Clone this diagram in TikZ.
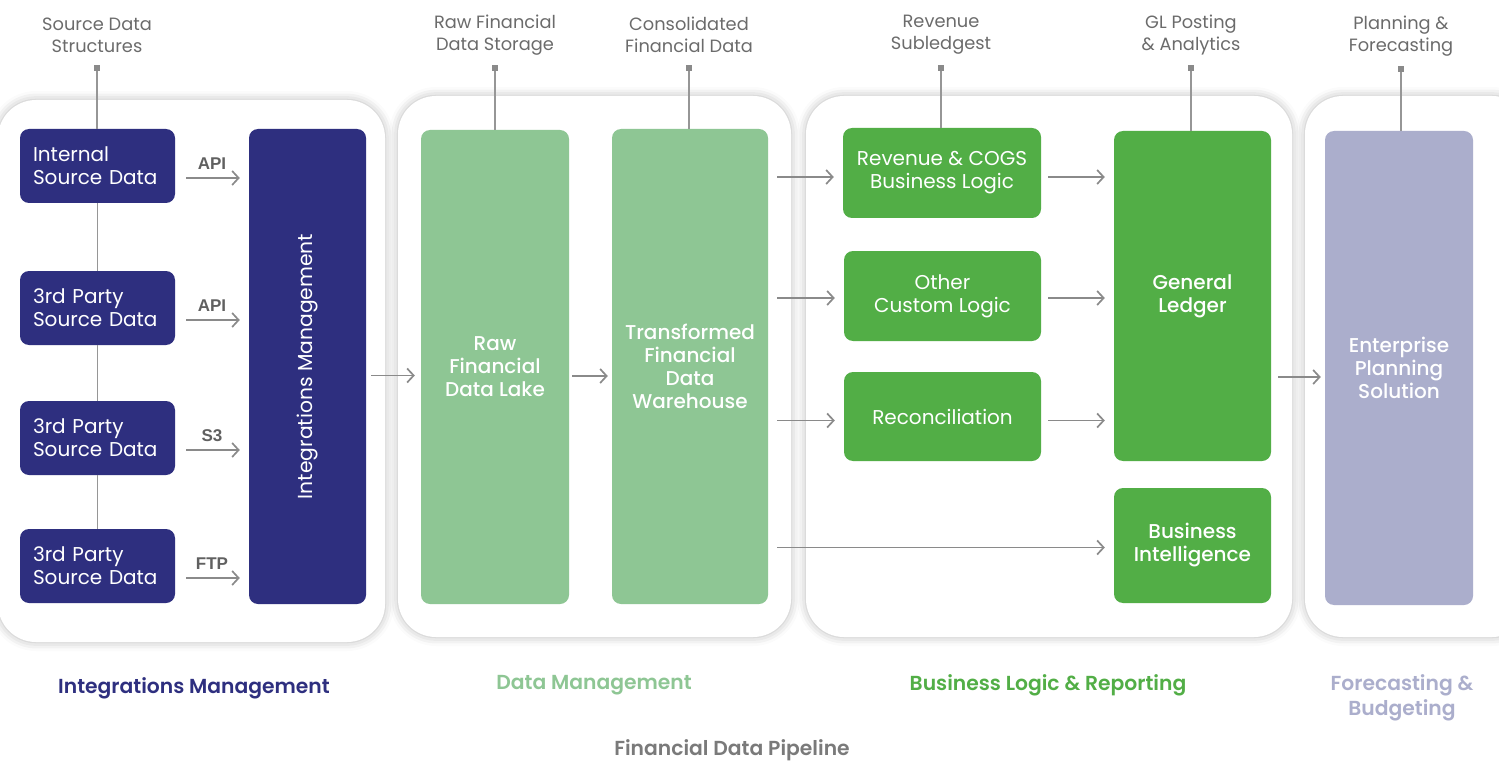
\documentclass[tikz,border=0pt]{standalone}
\usepackage{fontspec}
\setmainfont{Poppins}
\newfontfamily\popmed{Poppins Medium}
\newfontfamily\popsemi{Poppins SemiBold}
\newfontfamily\arialb{Liberation Sans}
\usetikzlibrary{arrows.meta,shadows.blur,calc}

\definecolor{navy}{RGB}{46,47,127}
\definecolor{leaf}{RGB}{82,174,70}
\definecolor{mint}{RGB}{142,198,148}
\definecolor{lilac}{RGB}{171,174,204}
\definecolor{labelgray}{RGB}{107,107,107}
\definecolor{arrowgray}{RGB}{138,138,138}
\definecolor{stemgray}{RGB}{150,150,150}

\tikzset{
  panel/.style={fill=white, rounded corners=38pt,
    blur shadow={shadow xshift=0pt, shadow yshift=0pt, shadow blur radius=9pt, shadow opacity=28}},
  block/.style={rectangle, rounded corners=9pt, inner sep=0pt, align=center, text=white,
    font=\fontsize{20}{23}\selectfont},
  medblock/.style={block, font=\popmed\fontsize{20}{23}\selectfont},
  srcbox/.style={block, fill=navy, minimum width=155pt, minimum height=74pt,
    text width=129pt, align=left},
  arr/.style={draw=arrowgray, line width=1.8pt, -{Straight Barb[length=6.5pt,width=14pt,line width=1.7pt]}},
  stem/.style={draw=stemgray, line width=1.3pt},
  marker/.style={rectangle, fill=arrowgray, minimum size=6pt, inner sep=0pt},
  toplabel/.style={align=center, text=labelgray, font=\fontsize{17.8}{22}\selectfont},
  protocol/.style={text=labelgray!90!black, font=\arialb\bfseries\fontsize{17}{20}\selectfont},
  steplabel/.style={align=center, font=\popsemi\fontsize{20.3}{25}\selectfont}
}

\begin{document}
\begin{tikzpicture}[x=1pt, y=-1pt]
\useasboundingbox (0,0) rectangle (1499,762);

% white stage panels
\path[panel] (-2,100) rectangle (385,642);
\path[panel] (398,96) rectangle (791,637);
\path[panel] (806,96) rectangle (1292,637);
\path[panel] (1305,96) rectangle (1530,637);

% source systems
\node[srcbox] (s1) at (97.5,166) {Internal\\Source Data};
\node[srcbox] (s2) at (97.5,308) {3rd Party\\Source Data};
\node[srcbox] (s3) at (97.5,438) {3rd Party\\Source Data};
\node[srcbox] (s4) at (97.5,566) {3rd Party\\Source Data};

% integration hub
\node[block, fill=navy, minimum width=117pt, minimum height=475pt] (im) at (307.5,366.5) {};
\node[text=white, rotate=90, font=\fontsize{20.3}{24}\selectfont] at (im.center) {Integrations Management};

% data management
\node[medblock, fill=mint, minimum width=148pt, minimum height=474pt] (raw) at (495,367) {Raw\\Financial\\Data Lake};
\node[medblock, fill=mint, minimum width=156pt, minimum height=475pt] (tw) at (690,366.5) {Transformed\\Financial\\Data\\Warehouse};

% business logic
\node[block, fill=leaf, minimum width=198pt, minimum height=90pt] (rc) at (942,173) {Revenue \& COGS\\Business Logic};
\node[block, fill=leaf, minimum width=197pt, minimum height=90pt] (oc) at (942.5,296) {Other\\Custom Logic};
\node[block, fill=leaf, minimum width=197pt, minimum height=89pt] (rec) at (942.5,416.5) {Reconciliation};
\node[medblock, fill=leaf, minimum width=157pt, minimum height=330pt] (gl) at (1192.5,296) {General\\Ledger};
\node[medblock, fill=leaf, minimum width=157pt, minimum height=115pt] (bi) at (1192.5,545.5) {Business\\Intelligence};

% planning
\node[medblock, fill=lilac, minimum width=148pt, minimum height=474pt] (ep) at (1399,368) {Enterprise\\Planning\\Solution};

% header captions with their markers
\node[toplabel] (hs) at (97,35) {Source Data\\Structures};
\node[toplabel] (hr) at (495,35) {Raw Financial\\Data Storage};
\node[toplabel] (hc) at (689,35) {Consolidated\\Financial Data};
\node[toplabel] (hv) at (941,35) {Revenue\\Subledgest};
\node[toplabel] (hg) at (1191,35) {GL Posting\\\& Analytics};
\node[toplabel] (hp) at (1401,36) {Planning \&\\Forecasting};

\node[marker] (ms) at (97,68) {};
\node[marker] (mr) at (495,68) {};
\node[marker] (mc) at (689,68) {};
\node[marker] (mv) at (941,68) {};
\node[marker] (mg) at (1191,68) {};
\node[marker] (mp) at (1401,69) {};

\draw[stem] (ms) -- (ms |- s1.north);
\draw[stem] (s1.south) -- (s2.north);
\draw[stem] (s2.south) -- (s3.north);
\draw[stem] (s3.south) -- (s4.north);
\draw[stem] (mr) -- (mr |- raw.north);
\draw[stem] (mc) -- (mc |- tw.north);
\draw[stem] (mv) -- (mv |- rc.north);
\draw[stem] (mg) -- (mg |- gl.north);
\draw[stem] (mp) -- (mp |- ep.north);

% transfer protocols
\foreach \s/\p in {s1/API, s2/API, s3/S3, s4/FTP} {
  \draw[arr, shorten <=11pt, shorten >=9pt] ([yshift=-12pt]\s.east) -- ([yshift=-12pt]\s.east -| im.west)
    node[protocol, midway, above=4pt] {\p};
}

% flow between stages
\draw[arr, shorten <=5pt, shorten >=6pt] ([yshift=-9pt]im.east) -- ([yshift=-9pt]im.east -| raw.west);
\draw[arr, shorten <=3pt, shorten >=4pt] ([yshift=-9pt]raw.east) -- ([yshift=-9pt]raw.east -| tw.west);
\draw[arr, shorten <=9pt, shorten >=9pt] ([yshift=-4pt]tw.east |- rc.west) -- ([yshift=-4pt]rc.west);
\draw[arr, shorten <=9pt, shorten >=9pt] ([yshift=-2pt]tw.east |- oc.west) -- ([yshift=-2pt]oc.west);
\draw[arr, shorten <=9pt, shorten >=9pt] ([yshift=-4pt]tw.east |- rec.west) -- ([yshift=-4pt]rec.west);
\draw[arr, shorten <=9pt, shorten >=9pt] ([yshift=-2pt]tw.east |- bi.west) -- ([yshift=-2pt]bi.west);
\draw[arr, shorten <=7pt, shorten >=9pt] ([yshift=-4pt]rc.east) -- ([yshift=-4pt]rc.east -| gl.west);
\draw[arr, shorten <=7pt, shorten >=9pt] ([yshift=-2pt]oc.east) -- ([yshift=-2pt]oc.east -| gl.west);
\draw[arr, shorten <=7pt, shorten >=9pt] ([yshift=-4pt]rec.east) -- ([yshift=-4pt]rec.east -| gl.west);
\draw[arr, shorten <=7pt, shorten >=4pt] ([yshift=-9pt]ep.west -| gl.east) -- ([yshift=-9pt]ep.west);

% stage captions
\node[steplabel, text=navy] (ci) at (194,688) {Integrations Management};
\node[steplabel, text=mint] (cd) at (594,685) {Data Management};
\node[steplabel, text=leaf] (cb) at (1048,685) {Business Logic \& Reporting};
\node[steplabel, text=lilac] (cf) at (1402,697.5) {Forecasting \&\\Budgeting};
\node[font=\popsemi\fontsize{20.3}{24}\selectfont, text=labelgray!90] (title) at (732,750) {Financial Data Pipeline};
\end{tikzpicture}
\end{document}
